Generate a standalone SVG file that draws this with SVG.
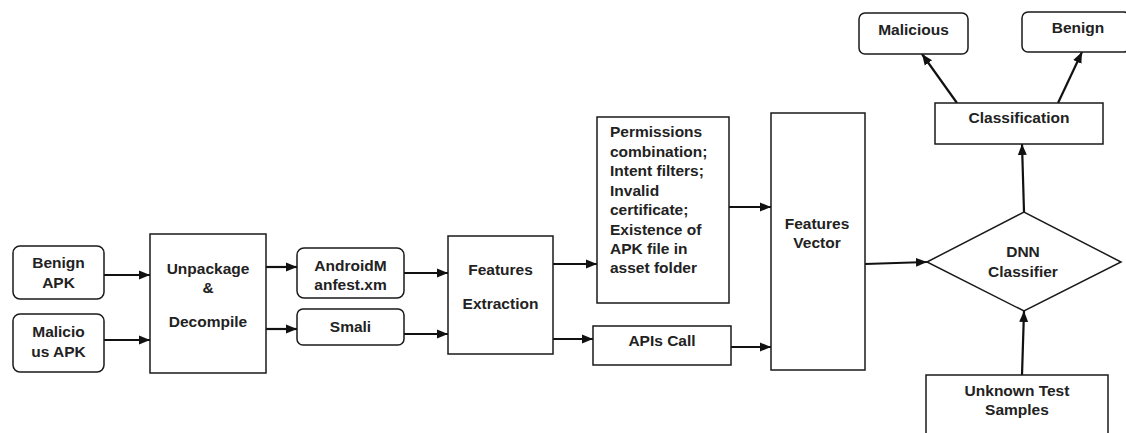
<svg xmlns="http://www.w3.org/2000/svg" width="1126" height="433" viewBox="0 0 1126 433">
<defs>
<style>
.box{fill:#fff;stroke:#1a1a1a;stroke-width:1.5}
.t{font-family:"Liberation Sans",Arial,sans-serif;font-weight:bold;font-size:15.5px;fill:#222;text-anchor:middle}
.tl{font-family:"Liberation Sans",Arial,sans-serif;font-weight:bold;font-size:15.5px;fill:#222}
.c{stroke:#111;stroke-width:2.2;fill:none;marker-end:url(#ah)}
</style>
<marker id="ah" markerUnits="userSpaceOnUse" markerWidth="11" markerHeight="11" viewBox="0 0 11 10" refX="11" refY="5" orient="auto">
<path d="M0,0.5 L11,5 L0,9.5 Z" fill="#111"/>
</marker>
</defs>
<rect width="1126" height="433" fill="#fff"/>
<g id="connectors">
<line class="c" x1="104" y1="275" x2="150" y2="275"/>
<line class="c" x1="104" y1="340" x2="150" y2="340"/>
<line class="c" x1="266" y1="267" x2="297" y2="267"/>
<line class="c" x1="266" y1="329" x2="297" y2="329"/>
<line class="c" x1="404" y1="273" x2="448" y2="273"/>
<line class="c" x1="404" y1="334" x2="448" y2="334"/>
<line class="c" x1="553" y1="264" x2="597" y2="264"/>
<line class="c" x1="553" y1="339" x2="593" y2="339"/>
<line class="c" x1="729" y1="207" x2="771" y2="207"/>
<line class="c" x1="731" y1="347" x2="771" y2="347"/>
<line class="c" x1="865" y1="264" x2="927" y2="262"/>
<line class="c" x1="1022" y1="375" x2="1024" y2="311"/>
<line class="c" x1="1024" y1="212" x2="1022" y2="144"/>
<line class="c" x1="957" y1="103" x2="922" y2="54"/>
<line class="c" x1="1058" y1="103" x2="1082" y2="52"/>
</g>
<g id="benign-apk"><rect class="box" x="13" y="246" width="91" height="53" rx="7"/><text class="t" x="58.5" y="268">Benign</text><text class="t" x="58.5" y="288">APK</text></g>
<g id="malicious-apk"><rect class="box" x="13" y="314" width="91" height="58" rx="7"/><text class="t" x="58.5" y="337">Malicio</text><text class="t" x="58.5" y="357">us APK</text></g>
<g id="unpackage"><rect class="box" x="150" y="234" width="116" height="139"/><text class="t" x="208" y="274">Unpackage</text><text class="t" x="208" y="293">&amp;</text><text class="t" x="208" y="327">Decompile</text></g>
<g id="manifest"><rect class="box" x="297" y="248" width="107" height="50" rx="7"/><text class="t" x="350.5" y="271">AndroidM</text><text class="t" x="350.5" y="290">anfest.xm</text></g>
<g id="smali"><rect class="box" x="297" y="309" width="107" height="36" rx="6"/><text class="t" x="350.5" y="332">Smali</text></g>
<g id="features-extraction"><rect class="box" x="448" y="236" width="105" height="118"/><text class="t" x="500.5" y="275">Features</text><text class="t" x="500.5" y="309">Extraction</text></g>
<g id="permissions"><rect class="box" x="597" y="117" width="132" height="186"/>
<text class="tl" x="610" y="137">Permissions</text>
<text class="tl" x="610" y="156.5">combination;</text>
<text class="tl" x="610" y="176">Intent filters;</text>
<text class="tl" x="610" y="195.5">Invalid</text>
<text class="tl" x="610" y="215">certificate;</text>
<text class="tl" x="610" y="234.5">Existence of</text>
<text class="tl" x="610" y="254">APK file in</text>
<text class="tl" x="610" y="273">asset folder</text>
</g>
<g id="apis-call"><rect class="box" x="593" y="326" width="138" height="39"/><text class="t" x="662" y="346">APIs Call</text></g>
<g id="features-vector"><rect class="box" x="771" y="113" width="94" height="257"/><text class="t" x="817" y="229">Features</text><text class="t" x="817" y="248">Vector</text></g>
<g id="dnn"><polygon class="box" points="927,262 1024,212 1121,262 1024,311"/><text class="t" x="1023" y="257">DNN</text><text class="t" x="1023" y="277">Classifier</text></g>
<g id="unknown"><rect class="box" x="926" y="375" width="182" height="70"/><text class="t" x="1017" y="396">Unknown Test</text><text class="t" x="1017" y="415">Samples</text></g>
<g id="classification"><rect class="box" x="935" y="103" width="168" height="41"/><text class="t" x="1019" y="123">Classification</text></g>
<g id="malicious"><rect class="box" x="859" y="13" width="109" height="41" rx="6"/><text class="t" x="913.5" y="35">Malicious</text></g>
<g id="benign"><rect class="box" x="1022" y="12" width="108" height="40" rx="6"/><text class="t" x="1078" y="33">Benign</text></g>
</svg>
